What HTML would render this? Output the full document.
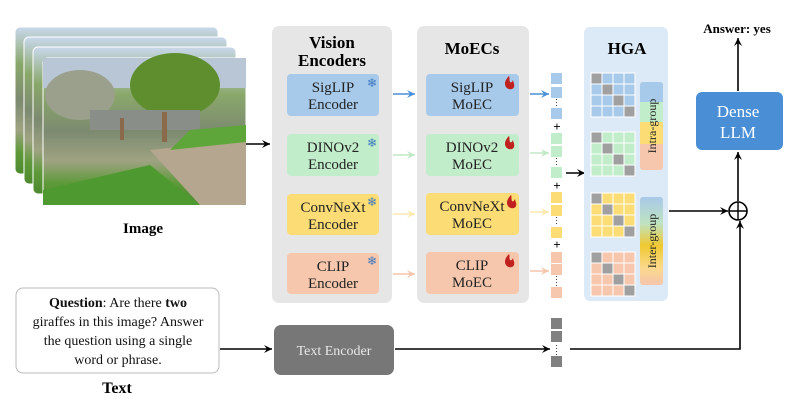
<!DOCTYPE html>
<html><head><meta charset="utf-8"><style>
html,body{margin:0;padding:0;background:#fff;}
svg{display:block;}
text{font-family:"Liberation Serif",serif;}
</style></head><body>
<svg width="797" height="417" viewBox="0 0 797 417" xmlns="http://www.w3.org/2000/svg">
<defs>
<marker id="ak" markerWidth="10" markerHeight="10" refX="9" refY="5" orient="auto" markerUnits="userSpaceOnUse"><path d="M1,1 L9,5 L1,9 L4,5 Z" fill="#000"/></marker>
<marker id="ab" markerWidth="10" markerHeight="10" refX="9" refY="5" orient="auto" markerUnits="userSpaceOnUse"><path d="M1,1 L9,5 L1,9 L4,5 Z" fill="#4a90d9"/></marker>
<marker id="ag" markerWidth="10" markerHeight="10" refX="9" refY="5" orient="auto" markerUnits="userSpaceOnUse"><path d="M1,1 L9,5 L1,9 L4,5 Z" fill="#bfe8c4"/></marker>
<marker id="ay" markerWidth="10" markerHeight="10" refX="9" refY="5" orient="auto" markerUnits="userSpaceOnUse"><path d="M1,1 L9,5 L1,9 L4,5 Z" fill="#fde9b0"/></marker>
<marker id="ap" markerWidth="10" markerHeight="10" refX="9" refY="5" orient="auto" markerUnits="userSpaceOnUse"><path d="M1,1 L9,5 L1,9 L4,5 Z" fill="#f5c5ac"/></marker>
<linearGradient id="photo" x1="0" y1="0" x2="0" y2="1">
<stop offset="0" stop-color="#c9d8ec"/><stop offset="0.25" stop-color="#8aa86a"/><stop offset="0.5" stop-color="#7c8a70"/><stop offset="0.7" stop-color="#9fa382"/><stop offset="0.85" stop-color="#5f9a3a"/><stop offset="1" stop-color="#4d8a2e"/></linearGradient>
<linearGradient id="inter" x1="0" y1="0" x2="0" y2="1">
<stop offset="0" stop-color="#a8c8e8"/><stop offset="0.3" stop-color="#bfe3c2"/><stop offset="0.55" stop-color="#f0c830"/><stop offset="0.8" stop-color="#fbd98a"/><stop offset="1" stop-color="#f5c5ac"/></linearGradient>
</defs>

<g>
<rect x="15" y="27" width="203" height="147" rx="5" fill="url(#photo)" stroke="#fff"/>
<rect x="24" y="37" width="203" height="147" rx="5" fill="url(#photo)" stroke="#fff"/>
<rect x="33" y="47" width="203" height="147" rx="5" fill="url(#photo)" stroke="#fff"/>
<rect x="43" y="58" width="203" height="147" rx="5" fill="url(#photo)" stroke="#fff"/>
<rect x="43" y="58" width="203" height="30" fill="#b8c6d6"/>
<ellipse cx="175" cy="85" rx="45" ry="32" fill="#5e8e2e"/>
<ellipse cx="80" cy="95" rx="35" ry="25" fill="#9aa08c"/>
<rect x="90" y="110" width="110" height="20" fill="#8a8e88"/>
<path d="M150,150 L246,140 L246,205 L200,205 Z" fill="#b5a68f"/>
<path d="M190,130 L246,125 L246,142 L170,150 Z" fill="#5ea63a"/>
<path d="M43,190 L150,165 L200,205 L43,205 Z" fill="#4e9a30"/>
<rect x="162" y="112" width="5" height="30" fill="#8a6a4a"/>
<rect x="120" y="118" width="4" height="22" fill="#8a6a4a"/>
</g>
<line x1="246" y1="144" x2="270" y2="144" stroke="#000" stroke-width="1.6" marker-end="url(#ak)"/>
<text x="143" y="233" font-size="15" font-weight="bold" text-anchor="middle">Image</text>

<rect x="272" y="26" width="120" height="277" rx="7" fill="#e6e6e6"/>
<text x="332" y="48" font-size="17" font-weight="bold" text-anchor="middle">Vision</text>
<text x="332" y="66" font-size="17" font-weight="bold" text-anchor="middle">Encoders</text>
<rect x="287" y="74" width="92" height="42" rx="4" fill="#a7c9ea"/>
<rect x="287" y="134" width="92" height="42" rx="4" fill="#c2edca"/>
<rect x="287" y="194" width="92" height="41" rx="4" fill="#fcdc74"/>
<rect x="287" y="253" width="92" height="41" rx="4" fill="#f6c7ad"/>
<g font-size="15" text-anchor="middle" fill="#222">
<text x="333" y="92">SigLIP</text><text x="333" y="109">Encoder</text>
<text x="333" y="152">DINOv2</text><text x="333" y="169">Encoder</text>
<text x="333" y="212">ConvNeXt</text><text x="333" y="229">Encoder</text>
<text x="333" y="271">CLIP</text><text x="333" y="288">Encoder</text>
</g>
<g fill="#3a78c0" font-size="12" font-family="DejaVu Sans">
<text x="367" y="87">❄</text><text x="367" y="147">❄</text><text x="367" y="206">❄</text><text x="367" y="265">❄</text>
</g>

<line x1="393" y1="94" x2="415" y2="94" stroke="#4a90d9" stroke-width="1.6" marker-end="url(#ab)"/>
<line x1="393" y1="155" x2="415" y2="155" stroke="#bfe8c4" stroke-width="1.6" marker-end="url(#ag)"/>
<line x1="393" y1="214" x2="415" y2="214" stroke="#fde9b0" stroke-width="1.6" marker-end="url(#ay)"/>
<line x1="393" y1="274" x2="415" y2="274" stroke="#f5c5ac" stroke-width="1.6" marker-end="url(#ap)"/>

<rect x="417" y="26" width="112" height="277" rx="7" fill="#e6e6e6"/>
<text x="472" y="54" font-size="17" font-weight="bold" text-anchor="middle">MoECs</text>
<rect x="426" y="74" width="93" height="42" rx="4" fill="#a7c9ea"/>
<rect x="426" y="134" width="93" height="42" rx="4" fill="#c2edca"/>
<rect x="426" y="193" width="93" height="42" rx="4" fill="#fcdc74"/>
<rect x="426" y="252" width="93" height="42" rx="4" fill="#f6c7ad"/>
<g font-size="15" text-anchor="middle" fill="#222">
<text x="472" y="92">SigLIP</text><text x="472" y="109">MoEC</text>
<text x="472" y="152">DINOv2</text><text x="472" y="169">MoEC</text>
<text x="472" y="211">ConvNeXt</text><text x="472" y="228">MoEC</text>
<text x="472" y="270">CLIP</text><text x="472" y="287">MoEC</text>
</g>
<g fill="#c0201e">
<path d="M509,76 c-4,4 -5,8 -3,11 c2,3 7,3 8,0 c1,-3 -1,-5 -1,-7 c-1,2 -2,3 -3,2 c-1,-2 0,-4 -1,-6z"/>
<path d="M509,136 c-4,4 -5,8 -3,11 c2,3 7,3 8,0 c1,-3 -1,-5 -1,-7 c-1,2 -2,3 -3,2 c-1,-2 0,-4 -1,-6z"/>
<path d="M511,195 c-4,4 -5,8 -3,11 c2,3 7,3 8,0 c1,-3 -1,-5 -1,-7 c-1,2 -2,3 -3,2 c-1,-2 0,-4 -1,-6z"/>
<path d="M509,254 c-4,4 -5,8 -3,11 c2,3 7,3 8,0 c1,-3 -1,-5 -1,-7 c-1,2 -2,3 -3,2 c-1,-2 0,-4 -1,-6z"/>
<path d="M772,99 c-5,5 -7,10 -4,14 c3,4 9,4 11,0 c1,-4 -1,-6 -1,-9 c-1,2 -3,4 -4,3 c-1,-3 0,-5 -2,-8z"/>
</g>

<line x1="530" y1="94" x2="549" y2="94" stroke="#4a90d9" stroke-width="1.6" marker-end="url(#ab)"/>
<line x1="530" y1="153" x2="549" y2="153" stroke="#bfe8c4" stroke-width="1.6" marker-end="url(#ag)"/>
<line x1="530" y1="212" x2="549" y2="212" stroke="#fde9b0" stroke-width="1.6" marker-end="url(#ay)"/>
<line x1="530" y1="271" x2="549" y2="271" stroke="#f5c5ac" stroke-width="1.6" marker-end="url(#ap)"/>

<g>
<rect x="551" y="73" width="11" height="11" fill="#a7c9ea"/><rect x="551" y="87" width="11" height="11" fill="#a7c9ea"/><rect x="551" y="108" width="11" height="11" fill="#a7c9ea"/>
<rect x="551" y="133" width="11" height="11" fill="#c2edca"/><rect x="551" y="146" width="11" height="11" fill="#c2edca"/><rect x="551" y="167" width="11" height="11" fill="#c2edca"/>
<rect x="551" y="192" width="11" height="11" fill="#fcdc74"/><rect x="551" y="205" width="11" height="11" fill="#fcdc74"/><rect x="551" y="227" width="11" height="11" fill="#fcdc74"/>
<rect x="551" y="252" width="11" height="11" fill="#f6c7ad"/><rect x="551" y="264" width="11" height="11" fill="#f6c7ad"/><rect x="551" y="287" width="11" height="11" fill="#f6c7ad"/>
<g stroke="#444" stroke-width="1" stroke-dasharray="1,2"><line x1="556.5" y1="99" x2="556.5" y2="107"/><line x1="556.5" y1="158" x2="556.5" y2="166"/><line x1="556.5" y1="217" x2="556.5" y2="226"/><line x1="556.5" y1="276" x2="556.5" y2="286"/><line x1="556.5" y1="345" x2="556.5" y2="355"/></g>
<g font-size="13" font-family="Liberation Sans" font-weight="bold" text-anchor="middle"><text x="557" y="131">+</text><text x="557" y="190">+</text><text x="557" y="249">+</text></g>
<rect x="551" y="318" width="11" height="11" fill="#808080"/><rect x="551" y="331" width="11" height="11" fill="#808080"/><rect x="551" y="356" width="11" height="11" fill="#808080"/>
</g>
<line x1="566" y1="173" x2="585" y2="173" stroke="#000" stroke-width="1.6" marker-end="url(#ak)"/>

<rect x="584" y="27" width="84" height="274" rx="6" fill="#dce9f6"/>
<text x="627" y="54" font-size="17" font-weight="bold" text-anchor="middle">HGA</text>
<g stroke="#fff" stroke-width="1">
<g fill="#a7c9ea">
<rect x="591" y="73" width="11" height="11" fill="#a0a0a0"/><rect x="602" y="73" width="11" height="11"/><rect x="613" y="73" width="11" height="11"/><rect x="624" y="73" width="11" height="11"/>
<rect x="591" y="84" width="11" height="11"/><rect x="602" y="84" width="11" height="11" fill="#a0a0a0"/><rect x="613" y="84" width="11" height="11"/><rect x="624" y="84" width="11" height="11"/>
<rect x="591" y="95" width="11" height="11"/><rect x="602" y="95" width="11" height="11"/><rect x="613" y="95" width="11" height="11" fill="#a0a0a0"/><rect x="624" y="95" width="11" height="11"/>
<rect x="591" y="106" width="11" height="11"/><rect x="602" y="106" width="11" height="11"/><rect x="613" y="106" width="11" height="11"/><rect x="624" y="106" width="11" height="11" fill="#a0a0a0"/>
</g>
<g fill="#c2edca">
<rect x="591" y="132" width="11" height="11" fill="#a0a0a0"/><rect x="602" y="132" width="11" height="11"/><rect x="613" y="132" width="11" height="11"/><rect x="624" y="132" width="11" height="11"/>
<rect x="591" y="143" width="11" height="11"/><rect x="602" y="143" width="11" height="11" fill="#a0a0a0"/><rect x="613" y="143" width="11" height="11"/><rect x="624" y="143" width="11" height="11"/>
<rect x="591" y="154" width="11" height="11"/><rect x="602" y="154" width="11" height="11"/><rect x="613" y="154" width="11" height="11" fill="#a0a0a0"/><rect x="624" y="154" width="11" height="11"/>
<rect x="591" y="165" width="11" height="11"/><rect x="602" y="165" width="11" height="11"/><rect x="613" y="165" width="11" height="11"/><rect x="624" y="165" width="11" height="11" fill="#a0a0a0"/>
</g>
<g fill="#fcdc74">
<rect x="591" y="193" width="11" height="11" fill="#a0a0a0"/><rect x="602" y="193" width="11" height="11"/><rect x="613" y="193" width="11" height="11"/><rect x="624" y="193" width="11" height="11"/>
<rect x="591" y="204" width="11" height="11"/><rect x="602" y="204" width="11" height="11" fill="#a0a0a0"/><rect x="613" y="204" width="11" height="11"/><rect x="624" y="204" width="11" height="11"/>
<rect x="591" y="215" width="11" height="11"/><rect x="602" y="215" width="11" height="11"/><rect x="613" y="215" width="11" height="11" fill="#a0a0a0"/><rect x="624" y="215" width="11" height="11"/>
<rect x="591" y="226" width="11" height="11"/><rect x="602" y="226" width="11" height="11"/><rect x="613" y="226" width="11" height="11"/><rect x="624" y="226" width="11" height="11" fill="#a0a0a0"/>
</g>
<g fill="#f6c7ad">
<rect x="591" y="252" width="11" height="11" fill="#a0a0a0"/><rect x="602" y="252" width="11" height="11"/><rect x="613" y="252" width="11" height="11"/><rect x="624" y="252" width="11" height="11"/>
<rect x="591" y="263" width="11" height="11"/><rect x="602" y="263" width="11" height="11" fill="#a0a0a0"/><rect x="613" y="263" width="11" height="11"/><rect x="624" y="263" width="11" height="11"/>
<rect x="591" y="274" width="11" height="11"/><rect x="602" y="274" width="11" height="11"/><rect x="613" y="274" width="11" height="11" fill="#a0a0a0"/><rect x="624" y="274" width="11" height="11"/>
<rect x="591" y="285" width="11" height="11"/><rect x="602" y="285" width="11" height="11"/><rect x="613" y="285" width="11" height="11"/><rect x="624" y="285" width="11" height="11" fill="#a0a0a0"/>
</g>
</g>
<g>
<rect x="640" y="82" width="23" height="88" rx="3" fill="#f6c7ad"/>
<rect x="640" y="82" width="23" height="60" rx="3" fill="#fcdc74"/>
<rect x="640" y="82" width="23" height="40" rx="3" fill="#c2edca"/>
<rect x="640" y="82" width="23" height="20" rx="3" fill="#a7c9ea"/>
<rect x="640" y="98" width="23" height="6" fill="#a7c9ea"/>
<rect x="640" y="102" width="23" height="20" fill="#c2edca"/>
<rect x="640" y="122" width="23" height="22" fill="#fcdc74"/>
<rect x="640" y="144" width="23" height="10" fill="#f6c7ad"/>
</g>
<text transform="translate(656,126) rotate(-90)" font-size="12" text-anchor="middle" fill="#222">Intra-group</text>
<rect x="640" y="197" width="23" height="88" rx="3" fill="url(#inter)"/>
<text transform="translate(656,241) rotate(-90)" font-size="12" text-anchor="middle" fill="#222">Inter-group</text>

<line x1="669" y1="211" x2="728" y2="211" stroke="#000" stroke-width="1.6" marker-end="url(#ak)"/>
<circle cx="738" cy="211" r="9" fill="none" stroke="#000" stroke-width="1.6"/>
<line x1="729" y1="211" x2="747" y2="211" stroke="#000" stroke-width="1.4"/>
<line x1="738" y1="202" x2="738" y2="220" stroke="#000" stroke-width="1.4"/>
<line x1="738" y1="201" x2="738" y2="152" stroke="#000" stroke-width="1.6" marker-end="url(#ak)"/>
<rect x="696" y="92" width="87" height="58" rx="6" fill="#4a8fd6"/>
<text x="738" y="117" font-size="17" fill="#fff" text-anchor="middle">Dense</text>
<text x="738" y="138" font-size="17" fill="#fff" text-anchor="middle">LLM</text>
<line x1="738" y1="91" x2="738" y2="38" stroke="#000" stroke-width="1.6" marker-end="url(#ak)"/>
<text x="737" y="33" font-size="13" font-weight="bold" text-anchor="middle">Answer: yes</text>

<rect x="16" y="288" width="203" height="85" rx="7" fill="#fff" stroke="#bbb"/>
<g font-size="14" text-anchor="middle" fill="#111">
<text x="118" y="307"><tspan font-weight="bold">Question</tspan>: Are there <tspan font-weight="bold">two</tspan></text>
<text x="118" y="326">giraffes in this image? Answer</text>
<text x="118" y="345">the question using a single</text>
<text x="118" y="364">word or phrase.</text>
</g>
<text x="117" y="393" font-size="16" font-weight="bold" text-anchor="middle">Text</text>
<line x1="220" y1="349" x2="272" y2="349" stroke="#000" stroke-width="1.6" marker-end="url(#ak)"/>
<rect x="274" y="325" width="120" height="50" rx="7" fill="#777"/>
<text x="334" y="355" font-size="14" fill="#e8e8e8" text-anchor="middle">Text Encoder</text>
<line x1="395" y1="349" x2="550" y2="349" stroke="#000" stroke-width="1.6" marker-end="url(#ak)"/>
<polyline points="570,349 740,349 740,221" fill="none" stroke="#000" stroke-width="1.6" marker-end="url(#ak)"/>
</svg>
</body></html>
